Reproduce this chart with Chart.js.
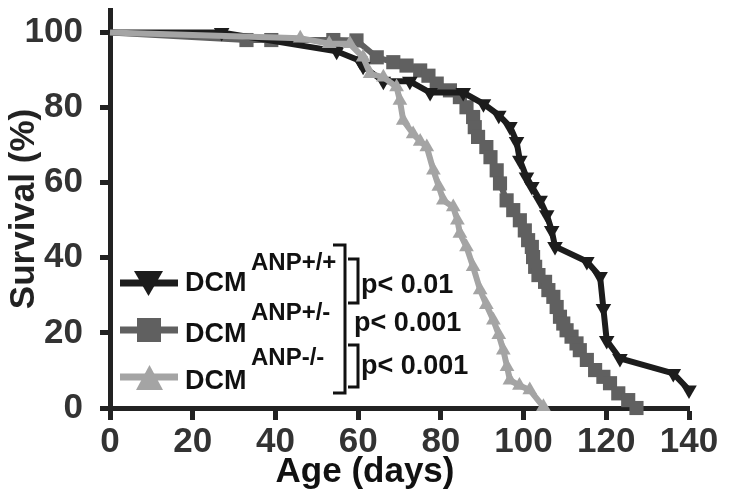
<!DOCTYPE html>
<html>
<head>
<meta charset="utf-8">
<script src="https://cdn.jsdelivr.net/npm/chart.js@4/dist/chart.umd.min.js"></script>
<style>
  html, body { margin: 0; padding: 0; background: #fff; }
  #wrap { width: 729px; height: 498px; position: relative; }
</style>
</head>
<body>
<div id="wrap"><canvas id="chart"></canvas></div>
<script>
// survival data (age in days, survival %)
const wtAge = [0, 27, 54.8, 60.4, 61.2, 66.1, 72.5, 77.4, 85.4, 90.3, 94, 96.7, 98.3, 99.1, 100.7, 102, 104, 105.6, 106.8, 107.6, 115.3, 118.5, 119.3, 120.1, 123.3, 136.2, 140];
const wtSurv = [100, 100, 95, 92.5, 91, 87, 87, 84, 84, 81, 78, 75, 71, 66, 61.5, 59, 55.3, 51.5, 47.3, 43, 39, 35, 26.5, 18, 13.2, 9.2, 4.8];

const hetAge = [0, 33, 39, 54, 59.6, 64.5, 68.5, 71.7, 75, 77, 79, 82.2, 84.6, 86.2, 87.8, 88.2, 89, 91, 92, 93.5, 94.3, 95.9, 97.5, 99.1, 100.3, 101.1, 102, 102.3, 102.8, 103.6, 105.2, 106, 107.2, 108, 108.8, 109.6, 110.4, 111.6, 112.8, 113.6, 115.3, 117.3, 119.3, 120.9, 122.9, 125.3, 127.3];
const hetSurv = [100, 98, 98, 98, 97.9, 93.4, 92.1, 91.2, 89.9, 88.5, 86.4, 84.6, 82.8, 80.1, 77.5, 74.8, 72.2, 69.5, 66.8, 63.3, 59.8, 55.3, 52.7, 50, 47.3, 44.7, 42.9, 40.2, 37.6, 35.4, 33.6, 31.4, 29.6, 26.9, 24.3, 22.5, 20.7, 19, 17.2, 15.4, 12.8, 10.1, 8.3, 6.6, 3.9, 2.1, 0];

const koAge = [0, 46, 53, 58, 61.2, 62.9, 66.1, 69.3, 70.1, 70.9, 73.3, 75, 76.6, 78.2, 79.5, 80.6, 83, 84, 84.6, 86.2, 87.8, 89.5, 91, 92.7, 94, 95.1, 96, 96.7, 99, 101.5, 104.8];
const koSurv = [100, 98.5, 97, 97, 93.4, 89, 88.1, 85.5, 81.9, 76.6, 73, 71, 69.5, 63.3, 59, 55.3, 53.5, 50, 46.5, 42.9, 37.6, 31.4, 27.5, 23.4, 19.5, 15.4, 11, 7.4, 6, 4.8, 0.3];

const xTicks = [0, 20, 40, 60, 80, 100, 120, 140];
const yTicks = [0, 20, 40, 60, 80, 100];

const groups = ['ANP+/+', 'ANP+/-', 'ANP-/-'];
const pValues = ['p< 0.01', 'p< 0.001', 'p< 0.001'];
const xTitle = 'Age (days)';

const C_WT = '#1c1c1c';
const C_HET = '#606060';
const C_KO = '#a4a4a4';
const FONT = "'Liberation Sans', Arial, sans-serif";

const toPoints = (xs, ys) => xs.map((x, i) => ({ x: x, y: ys[i] }));

const markerRadius = (r) => (ctx) => ctx.dataIndex === 0 ? 0 : r;

// legend with brackets + p values, and the x title (sits left of centre in the original)
const legendPlugin = {
    id: 'survLegend',
    afterDraw(chart) {
        const ctx = chart.ctx;
        const colors = [C_WT, C_HET, C_KO];
        const lineY = [283, 330, 377];
        ctx.save();

        lineY.forEach((y, i) => {
            ctx.strokeStyle = colors[i];
            ctx.lineWidth = 7;
            ctx.beginPath();
            ctx.moveTo(120, y);
            ctx.lineTo(178, y);
            ctx.stroke();

            ctx.fillStyle = colors[i];
            ctx.beginPath();
            if (i === 0) {
                ctx.moveTo(134, 271);
                ctx.lineTo(163, 271);
                ctx.lineTo(148.5, 296);
            } else if (i === 1) {
                ctx.rect(137, 318, 24, 24);
            } else {
                ctx.moveTo(149.5, 365);
                ctx.lineTo(163, 390);
                ctx.lineTo(136, 390);
            }
            ctx.closePath();
            ctx.fill();
        });

        ctx.fillStyle = '#111';
        ctx.textBaseline = 'alphabetic';
        ctx.textAlign = 'left';
        const dcmBase = [291, 342, 389];
        const supBase = [270, 320, 365];
        groups.forEach((g, i) => {
            ctx.font = 'bold 27px ' + FONT;
            ctx.fillText('DCM', 185, dcmBase[i]);
            ctx.font = 'bold 24px ' + FONT;
            ctx.fillText(g, 251, supBase[i]);
        });

        // brackets
        ctx.strokeStyle = '#111';
        ctx.lineWidth = 3;
        ctx.beginPath();
        ctx.moveTo(333, 245); ctx.lineTo(345, 245); ctx.lineTo(345, 393); ctx.lineTo(333, 393);
        ctx.moveTo(348, 259); ctx.lineTo(358, 259); ctx.lineTo(358, 303); ctx.lineTo(348, 303);
        ctx.moveTo(348, 345); ctx.lineTo(358, 345); ctx.lineTo(358, 387); ctx.lineTo(348, 387);
        ctx.stroke();

        ctx.font = 'bold 27px ' + FONT;
        ctx.fillText(pValues[0], 361, 293);
        ctx.fillText(pValues[1], 354, 331);
        ctx.fillText(pValues[2], 361, 374);

        ctx.font = 'bold 35px ' + FONT;
        ctx.textAlign = 'center';
        ctx.fillText(xTitle, 365, 482);
        ctx.restore();
    }
};

new Chart(document.getElementById('chart'), {
    type: 'scatter',
    data: {
        datasets: [
            {
                label: 'DCM ANP-/-',
                data: toPoints(koAge, koSurv),
                showLine: true,
                borderColor: C_KO,
                backgroundColor: C_KO,
                borderWidth: 6,
                pointStyle: 'triangle',
                pointRadius: markerRadius(8.5),
                pointBorderWidth: 0,
                clip: false,
                order: 0
            },
            {
                label: 'DCM ANP+/+',
                data: toPoints(wtAge, wtSurv),
                showLine: true,
                borderColor: C_WT,
                backgroundColor: C_WT,
                borderWidth: 6,
                pointStyle: 'triangle',
                pointRotation: 180,
                pointRadius: markerRadius(9),
                pointBorderWidth: 0,
                clip: false,
                order: 1
            },
            {
                label: 'DCM ANP+/-',
                data: toPoints(hetAge, hetSurv),
                showLine: true,
                borderColor: C_HET,
                backgroundColor: C_HET,
                borderWidth: 6,
                pointStyle: 'rect',
                pointRadius: markerRadius(10),
                pointBorderWidth: 0,
                clip: false,
                order: 2
            }
        ]
    },
    options: {
        responsive: true,
        maintainAspectRatio: false,
        animation: false,
        layout: { padding: { top: 10, right: 40, left: 0, bottom: 0 } },
        plugins: {
            legend: { display: false },
            tooltip: { enabled: false }
        },
        scales: {
            x: {
                type: 'linear',
                min: 0,
                max: 140,
                afterFit: (s) => { s.height = 90; s.paddingLeft = 0; s.paddingRight = 0; },
                afterBuildTicks: (s) => { s.ticks = xTicks.map(v => ({ value: v })); },
                border: { display: true, width: 5, color: '#222' },
                grid: { drawOnChartArea: false, tickLength: 12, tickWidth: 5, tickColor: '#222' },
                ticks: {
                    padding: 1,
                    color: '#333',
                    font: { family: FONT, size: 35, weight: 'bold' }
                }
            },
            y: {
                type: 'linear',
                min: 0,
                max: 106,
                afterFit: (s) => { s.width = 110; s.paddingTop = 0; s.paddingBottom = 0; },
                afterBuildTicks: (s) => { s.ticks = yTicks.map(v => ({ value: v })); },
                border: { display: true, width: 5, color: '#222' },
                grid: { drawOnChartArea: false, tickLength: 10, tickWidth: 5, tickColor: '#222' },
                ticks: {
                    padding: 17,
                    color: '#333',
                    font: { family: FONT, size: 35, weight: 'bold' }
                },
                title: {
                    display: true,
                    text: 'Survival (%)',
                    color: '#222',
                    padding: { top: 3, bottom: 0 },
                    font: { family: FONT, size: 35, weight: 'bold' }
                }
            }
        }
    },
    plugins: [legendPlugin]
});
</script>
</body>
</html>
